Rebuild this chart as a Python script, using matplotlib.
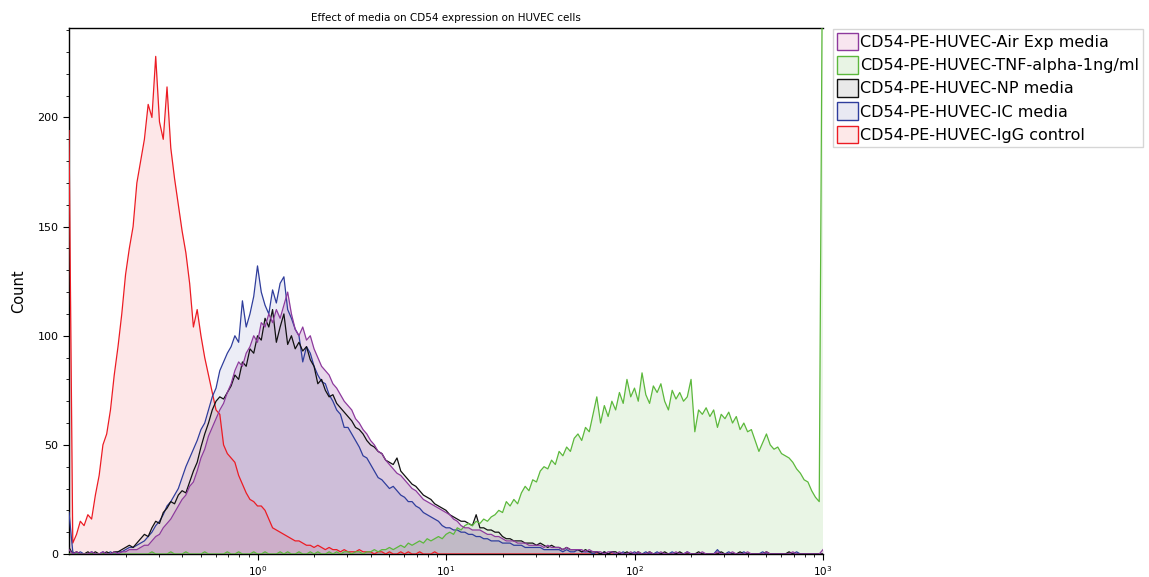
import numpy as np
import matplotlib
matplotlib.use("Agg")
import matplotlib.pyplot as plt
from matplotlib.patches import Patch

# canales en escala log10, de 10^-1 a 10^3 (paso 0.02)
canales_log = np.linspace(-1, 3, 201)

igg_control = [194, 5, 9, 15, 13, 18, 16, 27, 36, 50,
               55, 66, 82, 95, 110, 128, 140, 150, 170, 180,
               190, 206, 200, 228, 198, 190, 214, 186, 172, 160,
               148, 138, 124, 104, 112, 100, 90, 82, 74, 66,
               64, 50, 46, 44, 42, 36, 32, 28, 25, 24,
               22, 22, 20, 16, 12, 11, 10, 9, 8, 7,
               6, 6, 5, 4, 4, 3, 4, 3, 2, 3,
               2, 2, 1, 2, 1, 1, 1, 2, 1, 1,
               1, 0, 1, 1, 0, 1, 0, 0, 1, 0,
               1, 0, 0, 1, 0, 0, 0, 1, 0, 0] + [0] * 101

ic_media = [19, 1, 0, 1, 0, 0, 1, 0, 0, 1,
            0, 1, 0, 1, 1, 2, 3, 3, 4, 5,
            6, 8, 10, 13, 15, 18, 22, 24, 27, 30,
            35, 40, 44, 48, 52, 57, 60, 66, 72, 76,
            84, 88, 92, 95, 100, 97, 116, 104, 110, 118,
            132, 120, 114, 110, 121, 115, 124, 127, 112, 108,
            103, 100, 88, 95, 92, 86, 82, 79, 78, 73,
            70, 66, 64, 58, 58, 55, 52, 49, 45, 44,
            41, 38, 35, 34, 32, 30, 31, 29, 27, 26,
            24, 24, 22, 21, 19, 18, 17, 16, 15, 13,
            12, 12, 11, 11, 10, 10, 9, 9, 8, 8,
            7, 7, 6, 6, 6, 5, 5, 5, 4, 4,
            4, 3, 3, 3, 3, 3, 2, 2, 2, 2,
            2, 1, 2, 1, 1, 2, 1, 1, 1, 0,
            1, 0, 1, 0, 1, 0, 0, 1, 0, 0,
            1, 0, 0, 1, 0, 0, 1, 0, 0, 0,
            1, 0, 0, 0, 1, 0, 0, 0, 0, 0,
            0, 0, 2, 0, 0, 1, 0, 0, 0, 1,
            0, 0, 0, 0, 1, 0, 0, 0, 0, 0,
            0, 0, 0, 1, 0, 0, 0, 0, 0, 0, 0]

np_media = [3, 0, 1, 0, 0, 1, 0, 1, 0, 0,
            1, 0, 1, 1, 2, 3, 4, 3, 5, 7,
            9, 8, 12, 15, 14, 19, 21, 24, 23, 27,
            29, 28, 33, 38, 42, 49, 55, 60, 66, 70,
            72, 71, 74, 77, 82, 80, 88, 86, 94, 92,
            100, 98, 108, 104, 112, 97, 104, 110, 96, 100,
            94, 97, 93, 95, 89, 86, 78, 80, 75, 72,
            73, 69, 67, 65, 63, 61, 58, 57, 55, 52,
            50, 49, 47, 46, 43, 42, 41, 44, 38, 36,
            34, 32, 31, 29, 27, 26, 25, 23, 22, 21,
            20, 18, 17, 16, 15, 15, 14, 13, 18, 12,
            12, 11, 11, 10, 10, 8, 7, 7, 6, 6,
            6, 5, 5, 5, 4, 5, 4, 3, 4, 3,
            3, 2, 3, 2, 2, 2, 1, 2, 1, 1,
            1, 0, 1, 0, 1, 1, 0, 0, 1, 0,
            0, 1, 0, 0, 1, 0, 0, 0, 1, 0,
            0, 0, 1, 0, 0, 0, 0, 1, 0, 0,
            0, 0, 0, 1, 0, 0, 0, 0, 1, 0,
            0, 0, 0, 0, 0, 1, 0, 0, 0, 0,
            0, 1, 0, 0, 0, 0, 0, 0, 0, 0, 0]

air_exp_media = [2, 0, 1, 0, 0, 0, 1, 0, 0, 1,
                 0, 0, 1, 0, 1, 1, 2, 2, 2, 3,
                 4, 4, 6, 8, 9, 12, 14, 16, 19, 22,
                 25, 27, 31, 33, 38, 44, 48, 54, 58, 62,
                 66, 69, 74, 78, 84, 88, 86, 92, 95, 100,
                 97, 106, 104, 110, 106, 112, 108, 114, 120, 110,
                 103, 100, 104, 98, 100, 94, 90, 86, 84, 82,
                 78, 76, 73, 70, 68, 66, 62, 60, 57, 55,
                 52, 50, 47, 46, 43, 41, 39, 37, 36, 34,
                 32, 30, 29, 27, 25, 24, 23, 22, 21, 20,
                 19, 18, 16, 15, 13, 12, 12, 11, 11, 11,
                 10, 9, 9, 8, 8, 7, 6, 6, 6, 5,
                 5, 5, 4, 4, 4, 4, 3, 4, 3, 3,
                 3, 2, 3, 2, 2, 2, 2, 1, 2, 1,
                 1, 1, 0, 1, 1, 0, 1, 0, 0, 1,
                 0, 1, 0, 0, 1, 0, 0, 1, 0, 0,
                 0, 1, 0, 0, 1, 0, 0, 0, 1, 0,
                 0, 0, 1, 0, 0, 0, 1, 0, 0, 0,
                 1, 0, 0, 0, 0, 1, 0, 0, 0, 0,
                 0, 0, 1, 0, 0, 0, 0, 0, 0, 0, 2]

tnf_alpha = [0, 0, 0, 0, 0, 0, 0, 0, 0, 0,
             0, 0, 0, 0, 0, 0, 0, 0, 0, 0,
             0, 0, 1, 0, 0, 0, 0, 1, 0, 0,
             0, 1, 0, 0, 0, 0, 1, 0, 0, 0,
             0, 0, 1, 0, 0, 1, 0, 0, 0, 1,
             0, 0, 1, 0, 0, 0, 1, 0, 1, 0,
             0, 1, 0, 0, 1, 0, 1, 0, 0, 1,
             0, 1, 0, 1, 1, 0, 1, 1, 0, 1,
             1, 2, 1, 2, 2, 3, 2, 3, 4, 3,
             5, 4, 5, 6, 5, 7, 6, 7, 8, 7,
             9, 10, 9, 12, 11, 13, 14, 13, 15, 14,
             16, 15, 17, 18, 20, 19, 24, 22, 25, 23,
             28, 31, 29, 34, 33, 38, 40, 39, 43, 41,
             47, 45, 49, 47, 53, 55, 52, 58, 56, 64,
             72, 60, 68, 63, 70, 66, 74, 69, 80, 72,
             76, 70, 83, 73, 69, 77, 74, 78, 70, 66,
             75, 71, 74, 70, 72, 80, 56, 66, 64, 67,
             63, 66, 58, 64, 62, 65, 60, 63, 57, 60,
             56, 57, 52, 47, 51, 55, 50, 48, 49, 46,
             45, 44, 42, 39, 37, 34, 33, 29, 26, 24, 320]

nombres = ["CD54-PE-HUVEC-Air Exp media", "CD54-PE-HUVEC-TNF-alpha-1ng/ml",
           "CD54-PE-HUVEC-NP media", "CD54-PE-HUVEC-IC media",
           "CD54-PE-HUVEC-IgG control"]

x = 10 ** canales_log

fig = plt.figure(figsize=(11.49, 5.77), dpi=100)
ax = fig.add_axes([69 / 1149, 23 / 577, 754 / 1149, 526 / 577])

# orden de dibujo: control abajo, Air Exp arriba
series = [(igg_control, "#ec1c24", 0.10),
          (ic_media, "#2f3d9c", 0.09),
          (np_media, "#111111", 0.06),
          (tnf_alpha, "#5cb83c", 0.13),
          (air_exp_media, "#8d3a9d", 0.20)]
for k, (y, col, alfa) in enumerate(series):
    ax.fill_between(x, y, 0, color=col, alpha=alfa, linewidth=0, zorder=2 + k * 0.1)
    ax.plot(x, y, color=col, linewidth=0.9, zorder=3 + k * 0.1)

ax.set_xscale("log")
ax.set_xlim(0.1, 1000)
ax.set_ylim(0, 241)
ax.set_xticks([1, 10, 100, 1000])
ax.set_xticklabels(["$10^0$", "$10^1$", "$10^2$", "$10^3$"], fontsize=7.5)
ax.set_yticks([0, 50, 100, 150, 200])
ax.set_yticks(np.arange(0, 241, 10), minor=True)
ax.tick_params(axis="y", labelsize=8, length=4, width=0.8)
ax.tick_params(axis="y", which="minor", length=2.5, width=0.6)
ax.tick_params(axis="x", length=4, width=0.8, pad=3)
ax.tick_params(axis="x", which="minor", length=2.5, width=0.6)
ax.spines["right"].set_visible(False)
for s in ["left", "bottom", "top"]:
    ax.spines[s].set_linewidth(1.0)

ax.set_title("Effect of media on CD54 expression on HUVEC cells", fontsize=7.5, pad=5)
ax.set_ylabel("Count", fontsize=10.5, labelpad=8)

# leyenda con cuadros de color
colores = ["#8d3a9d", "#5cb83c", "#111111", "#2f3d9c", "#ec1c24"]
caras = ["#f8e6f0", "#e8f4e4", "#e9e9e9", "#e9e9f3", "#fde8e8"]
handles = [Patch(facecolor=caras[i], edgecolor=colores[i], linewidth=1.0) for i in range(5)]
fig.legend(handles, nombres, loc="upper left", bbox_to_anchor=(833 / 1149, 1 - 29 / 577),
           fontsize=11.5, frameon=True, fancybox=False, edgecolor="#cccccc",
           handlelength=1.3, handleheight=1.3, handletextpad=0.15, labelspacing=0.36,
           borderpad=0.25, borderaxespad=0)

plt.savefig("out.png", dpi=100)
